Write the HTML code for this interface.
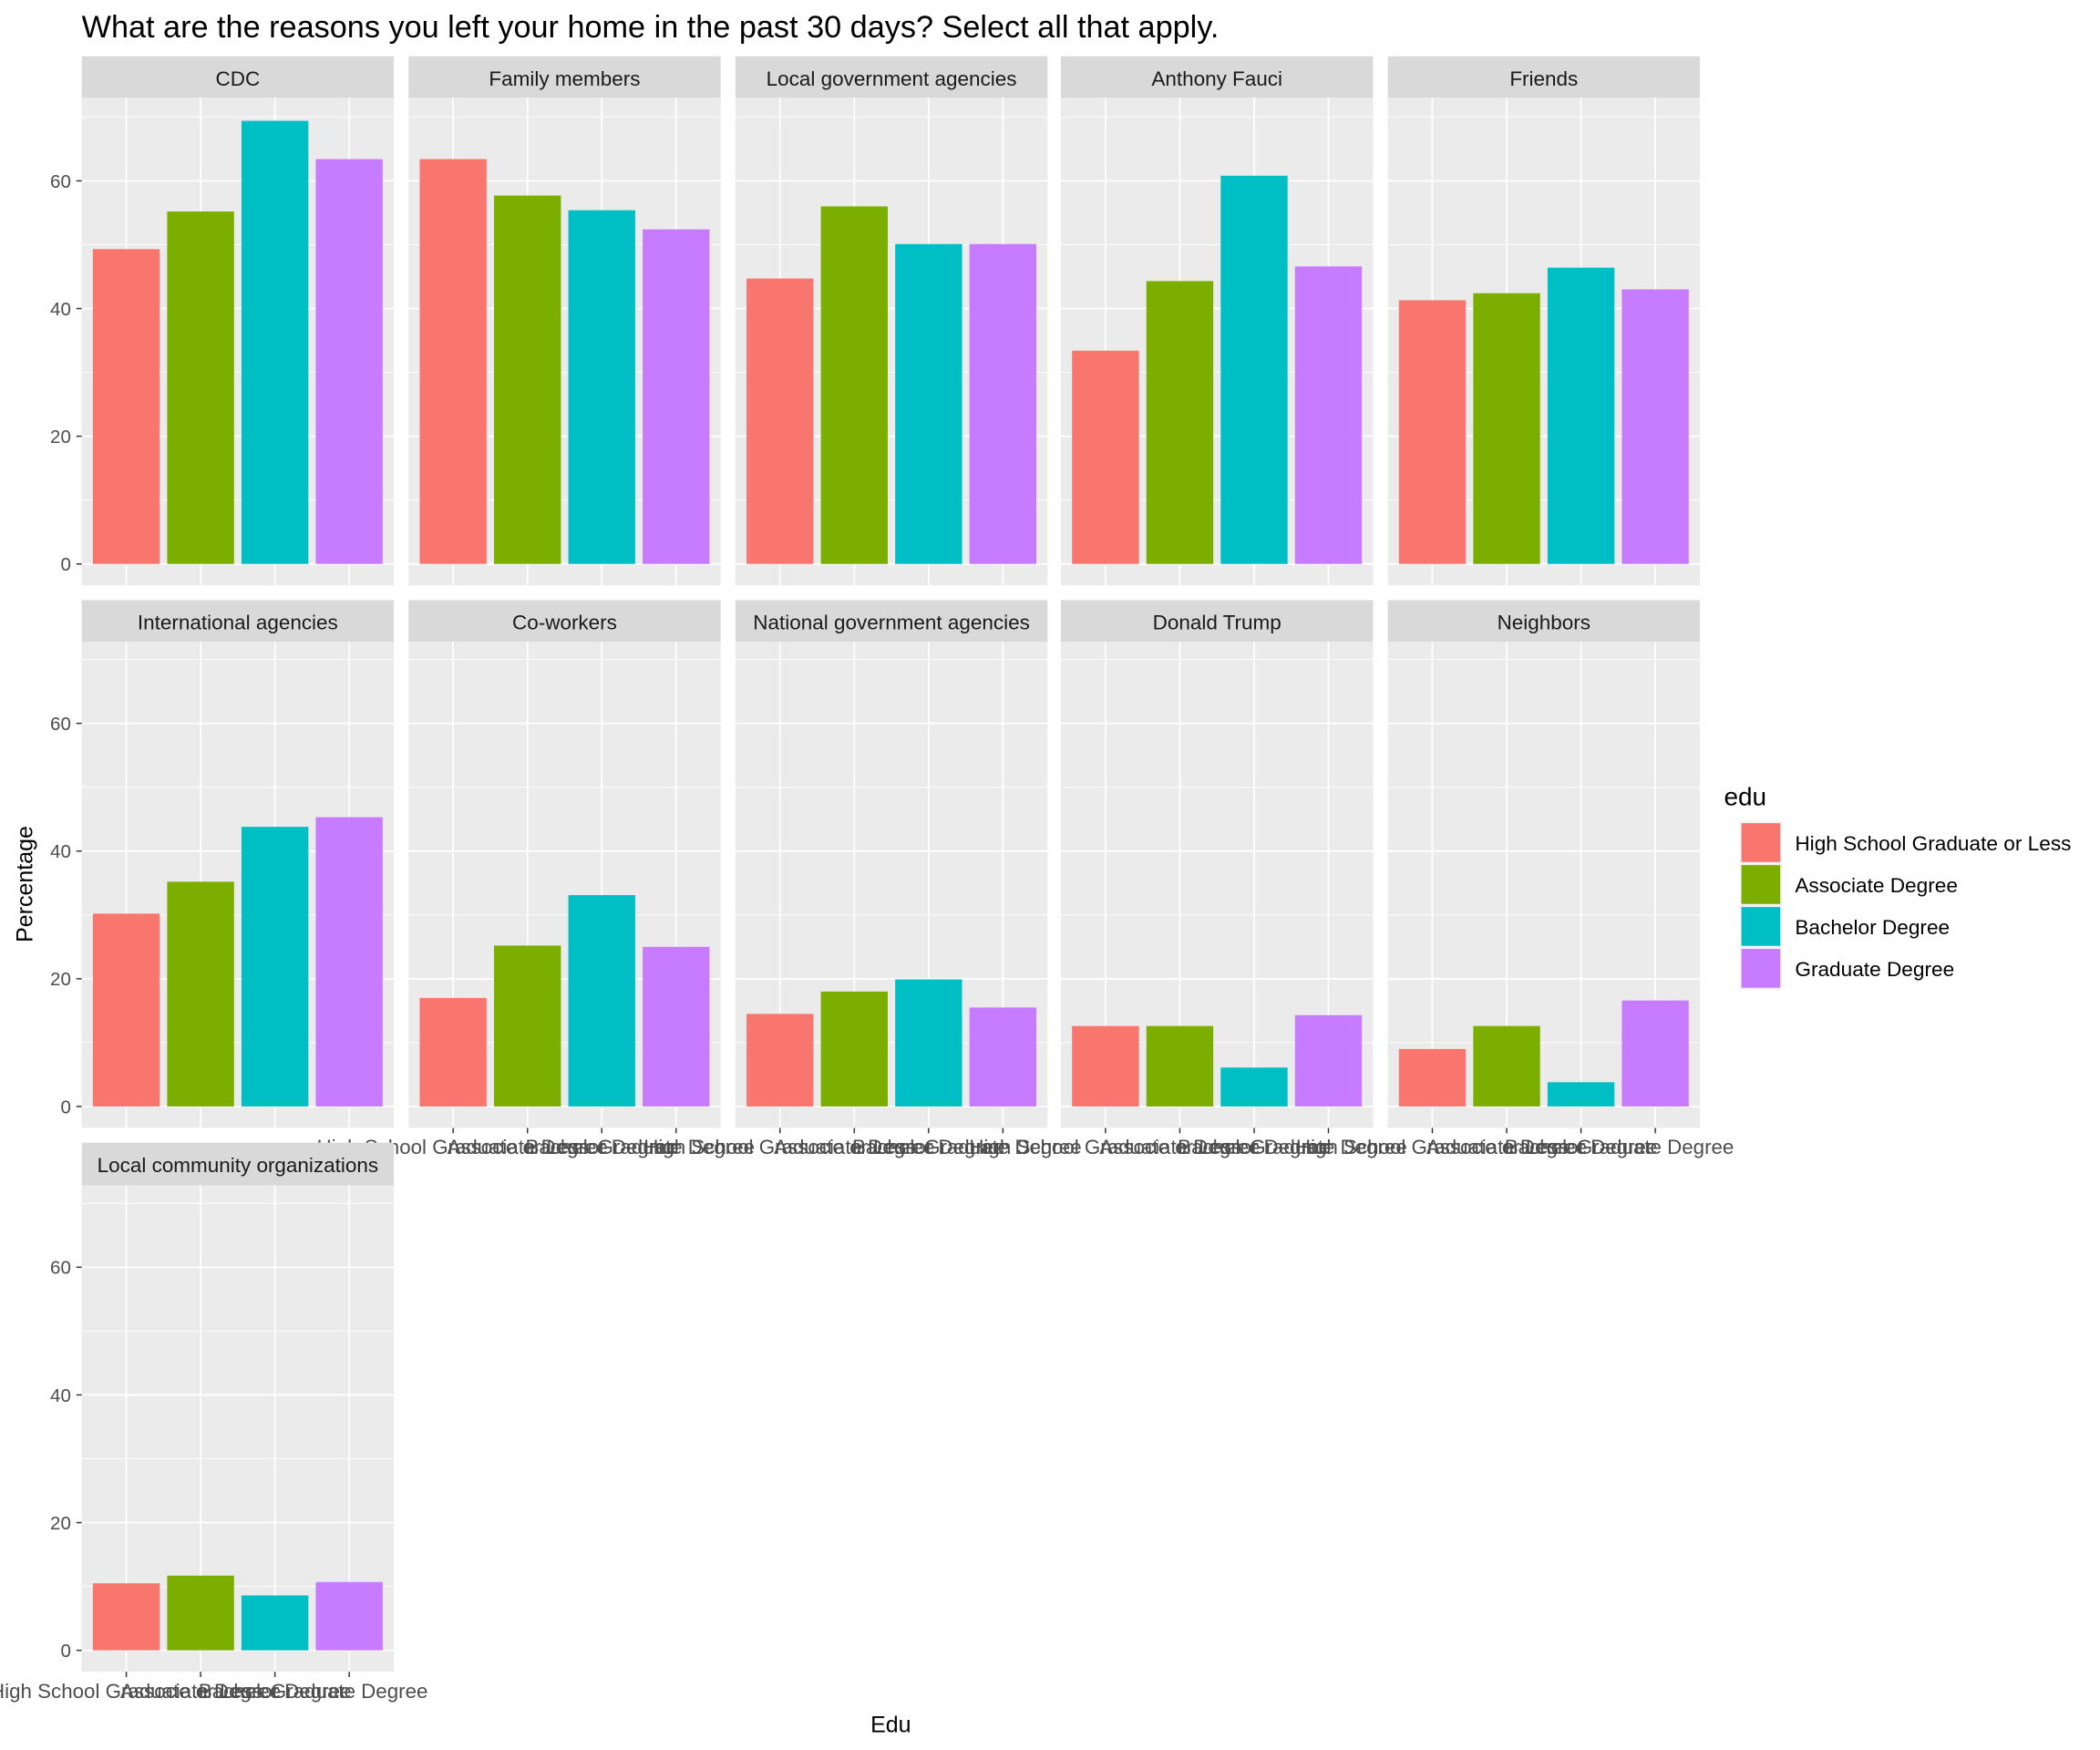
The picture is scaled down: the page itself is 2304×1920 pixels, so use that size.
<!DOCTYPE html>
<html><head><meta charset="utf-8">
<style>html,body{margin:0;padding:0;background:#fff;}svg{display:block;font-family:"Liberation Sans",Arial,sans-serif;}</style>
</head><body>
<svg id="chart" width="2304" height="1920" viewBox="0 0 1567.7 1306.4" preserveAspectRatio="none" xmlns="http://www.w3.org/2000/svg">
<rect x="0" y="0" width="1567.7" height="1306.4" fill="#fff"/>
<text x="61" y="28" font-size="23.3" fill="#000">What are the reasons you left your home in the past 30 days? Select all that apply.</text>
<text transform="translate(24,660) rotate(-90)" text-anchor="middle" font-size="17" fill="#000">Percentage</text>
<text x="665" y="1293" text-anchor="middle" font-size="17" fill="#000">Edu</text>
<g id="panels"></g>
<g>
<text x="1287" y="601" font-size="19" fill="#000">edu</text>
<g id="legend"></g>
</g>
</svg>
<script>
const categories = ["High School Graduate or Less","Associate Degree","Bachelor Degree","Graduate Degree"];
const colors = ["#F8766D","#7CAE00","#00BFC4","#C77CFF"];
const facets = ["CDC","Family members","Local government agencies","Anthony Fauci","Friends","International agencies","Co-workers","National government agencies","Donald Trump","Neighbors","Local community organizations"];
const valCDC = [49.3,55.2,69.4,63.4];
const valFamily = [63.4,57.7,55.4,52.4];
const valLocalGov = [44.7,56.0,50.1,50.1];
const valFauci = [33.4,44.3,60.8,46.6];
const valFriends = [41.3,42.4,46.4,43.0];
const valIntl = [30.2,35.2,43.8,45.3];
const valCoworkers = [17.0,25.2,33.1,25.0];
const valNational = [14.5,18.0,19.9,15.5];
const valTrump = [12.6,12.6,6.1,14.3];
const valNeighbors = [9.0,12.6,3.8,16.6];
const valCommunity = [10.5,11.7,8.6,10.7];
const seriesValues = [valCDC,valFamily,valLocalGov,valFauci,valFriends,valIntl,valCoworkers,valNational,valTrump,valNeighbors,valCommunity];
const yTicks = [0,20,40,60];
const yMinor = [10,30,50,70];

const NS="http://www.w3.org/2000/svg";
function mk(tag,attrs,parent){const e=document.createElementNS(NS,tag);for(const k in attrs)e.setAttribute(k,attrs[k]);parent.appendChild(e);return e;}
const colX=[61,305,549,792,1036], pw=233;
const rowY=[{s:42,p:73,b:437,z:421},{s:448,p:479,b:842,z:826},{s:853,p:885,b:1248,z:1232}];
const pxPerUnit=(421-135)/60;
const panels=document.getElementById('panels');
facets.forEach((name,i)=>{
  const r=Math.floor(i/5), c=i%5, x0=colX[c], R=rowY[r];
  const yS=v=>R.z-v*pxPerUnit;
  const xS=k=>x0+(k+0.6)*pw/4.2;
  const g=mk('g',{},panels);
  
  
  const st=mk('rect',{x:x0,y:R.s,width:pw,height:R.p-R.s,fill:'#D9D9D9'},g);
  
  const stt=mk('text',{x:x0+pw/2,y:R.s+22,'text-anchor':'middle','font-size':15.3,fill:'#1a1a1a'},g);
  stt.textContent=name;
  
  const bg=mk('rect',{x:x0,y:R.p,width:pw,height:R.b-R.p,fill:'#EBEBEB'},g);
  
  yMinor.forEach(v=>mk('line',{x1:x0,x2:x0+pw,y1:yS(v),y2:yS(v),stroke:'#fff','stroke-width':0.6},g));
  yTicks.forEach(v=>mk('line',{x1:x0,x2:x0+pw,y1:yS(v),y2:yS(v),stroke:'#fff','stroke-width':1.2},g));
  categories.forEach((cat,k)=>mk('line',{x1:xS(k),x2:xS(k),y1:R.p,y2:R.b,stroke:'#fff','stroke-width':1.2},g));
  seriesValues[i].forEach((v,k)=>{
    const b=mk('rect',{x:xS(k)-0.45*pw/4.2,width:0.9*pw/4.2,y:yS(v),height:v*pxPerUnit,fill:colors[k]},g);
    
    
  });
  if(c===0){
    yTicks.forEach(v=>{
      mk('line',{x1:x0-4,x2:x0,y1:yS(v),y2:yS(v),stroke:'#333','stroke-width':1},g);
      const t=mk('text',{x:x0-8,y:yS(v)+5,'text-anchor':'end','font-size':14,fill:'#4d4d4d'},g);
      t.textContent=v;
      
    });
  }
  const bottom = (r===2)||(r===1&&c>0);
  if(bottom){
    categories.forEach((cat,k)=>{
      mk('line',{x1:xS(k),x2:xS(k),y1:R.b,y2:R.b+4,stroke:'#333','stroke-width':1},g);
      const t=mk('text',{x:xS(k),y:R.b+19.5,'text-anchor':'middle','font-size':15.2,fill:'#4d4d4d'},g);
      t.textContent=cat;
      
    });
  }
});
const lg=document.getElementById('legend');
mk('rect',{x:1299,y:613,width:31,height:126,fill:'#F2F2F2'},lg);
categories.forEach((cat,k)=>{
  const y=614.5+k*31.3;
  const r=mk('rect',{x:1300,y:y,width:29,height:29,fill:colors[k]},lg);
  
  const t=mk('text',{x:1340,y:y+20.5,'font-size':15.4,fill:'#000'},lg);
  t.textContent=cat;
  
});
</script>
</body></html>
